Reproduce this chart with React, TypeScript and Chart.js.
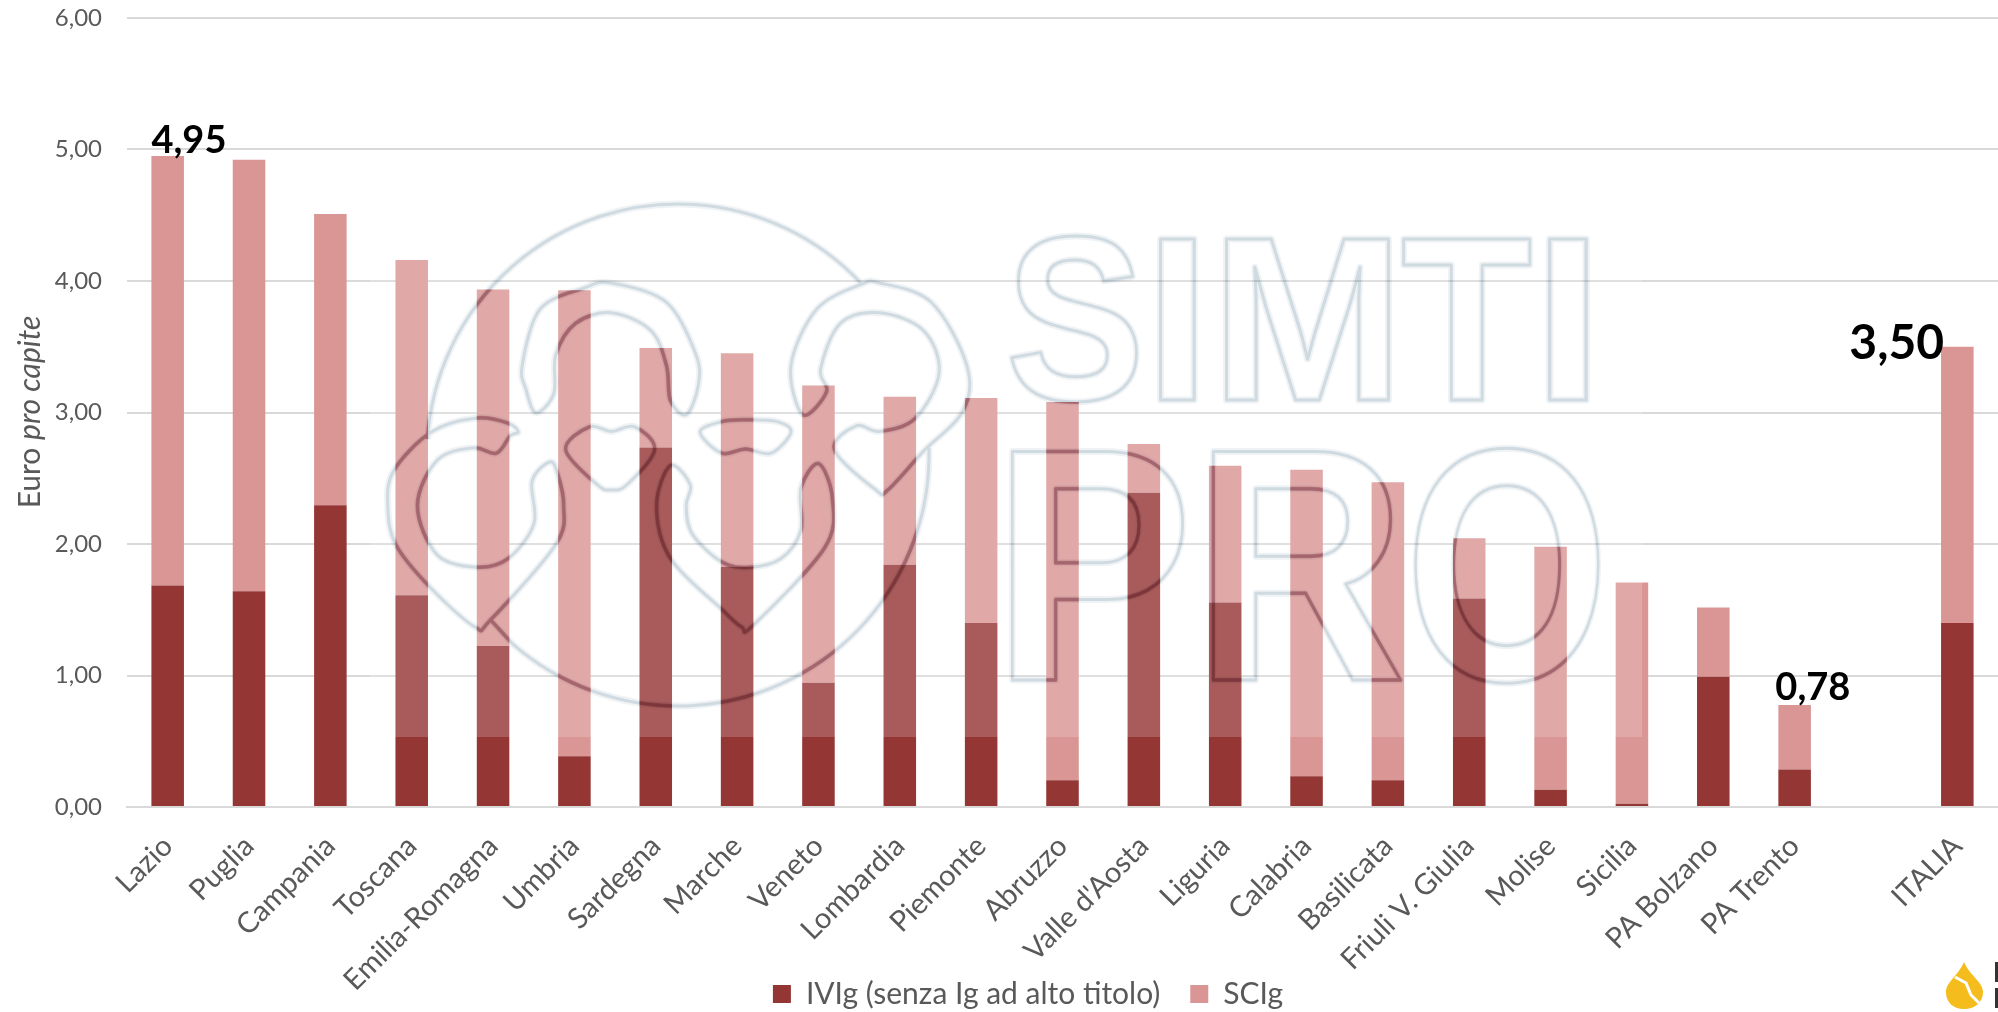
import React, { useEffect, useRef } from "react";
import { Chart, registerables } from "chart.js";

Chart.register(...registerables);

const categories = ["Lazio", "Puglia", "Campania", "Toscana", "Emilia-Romagna", "Umbria", "Sardegna", "Marche", "Veneto", "Lombardia", "Piemonte", "Abruzzo", "Valle d'Aosta", "Liguria", "Calabria", "Basilicata", "Friuli V. Giulia", "Molise", "Sicilia", "PA Bolzano", "PA Trento", "", "ITALIA"];
const ivigValues = [1.685, 1.64, 2.295, 1.61, 1.225, 0.386, 2.734, 1.827, 0.945, 1.842, 1.4, 0.203, 2.39, 1.555, 0.234, 0.203, 1.585, 0.132, 0.025, 0.991, 0.285, null, 1.4];
const scigValues = [3.265, 3.283, 2.215, 2.55, 2.71, 3.544, 0.756, 1.623, 2.261, 1.278, 1.71, 2.877, 0.37, 1.04, 2.331, 2.267, 0.458, 1.848, 1.683, 0.526, 0.49, null, 2.1];
const seriesNames = ["IVIg (senza Ig ad alto titolo)", "SCIg"];
const annotations = [
  { index: 0, text: "4,95", size: 38, align: "left", dx: 0, dy: -3 },
  { index: 20, text: "0,78", size: 38, align: "left", dx: -3, dy: -5 },
  { index: 22, text: "3,50", size: 48, align: "right", dx: 3, dy: 12 },
];
const yTitle = ["Euro ", "pro capite"];
const FONT = "Lato";
const TEXT = "#595959";

type P = [number, number];
const toFull = (p: P): P => [370 + p[0] / 2.53, 190 + p[1] / 2.85];
const logoShapes: P[][] = [
  [[155, 690], [60, 800], [45, 900], [65, 1010], [150, 1130], [265, 1245], [305, 1225], [470, 1010], [490, 900], [475, 810], [455, 775], [410, 830], [415, 950], [350, 1050], [270, 1075], [170, 1040], [120, 900], [170, 770], [260, 735], [320, 750], [355, 700], [375, 690], [350, 665], [270, 650]],
  [[420, 635], [395, 570], [385, 500], [430, 340], [540, 280], [610, 265], [750, 320], [825, 470], [830, 560], [800, 640], [760, 600], [750, 500], [710, 400], [610, 350], [520, 380], [470, 470], [465, 580]],
  [[495, 740], [575, 840], [610, 855], [650, 840], [720, 740], [670, 675], [610, 688], [555, 675]],
  [[760, 785], [810, 840], [800, 900], [815, 980], [890, 1060], [960, 1075], [1040, 1050], [1090, 970], [1090, 850], [1135, 780], [1170, 880], [1150, 1020], [970, 1240], [940, 1245], [890, 1195], [760, 1050], [725, 900]],
  [[835, 690], [890, 660], [950, 655], [1030, 660], [1065, 690], [1015, 750], [950, 738], [890, 750]],
  [[1095, 640], [1065, 500], [1130, 340], [1240, 270], [1290, 265], [1420, 320], [1510, 500], [1500, 630], [1400, 745], [1310, 855], [1280, 855], [1175, 740], [1230, 672], [1290, 688], [1380, 650], [1440, 520], [1400, 400], [1290, 350], [1190, 380], [1140, 510], [1155, 575]],
];
const simtiLetters: [string, number, number][] = [["S", 1011, 126], ["I", 1160, 35], ["M", 1226, 163], ["T", 1403, 127], ["I", 1549, 38]];
const proLetters: [string, number, number][] = [["P", 1011, 174], ["R", 1212, 189], ["O", 1413, 189]];

function traceLogo(ctx: CanvasRenderingContext2D) {
  const cx = 678, cy = 455, r = 251;
  ctx.beginPath();
  ctx.ellipse(cx, cy, r, r, 0, Math.PI * 1.02, Math.PI * 1.76);
  ctx.moveTo(...toFull([305, 1225]));
  ctx.ellipse(cx, cy, r, r, 0, Math.PI * 0.73, -0.03, true);
  for (const raw of logoShapes) {
    const s = raw.map(toFull);
    const n = s.length;
    ctx.moveTo(s[0][0], s[0][1]);
    for (let i = 0; i < n; i++) {
      const p0 = s[(i - 1 + n) % n], p1 = s[i], p2 = s[(i + 1) % n], p3 = s[(i + 2) % n];
      ctx.bezierCurveTo(
        p1[0] + (p2[0] - p0[0]) / 6, p1[1] + (p2[1] - p0[1]) / 6,
        p2[0] - (p3[0] - p1[0]) / 6, p2[1] - (p3[1] - p1[1]) / 6,
        p2[0], p2[1]
      );
    }
    ctx.closePath();
  }
}

function strokeLetters(ctx: CanvasRenderingContext2D, letters: [string, number, number][], size: number, baseline: number) {
  ctx.font = `bold ${size}px "Liberation Sans"`;
  ctx.textAlign = "left";
  ctx.textBaseline = "alphabetic";
  for (const [c, x, w] of letters) {
    const m = ctx.measureText(c);
    const ink = m.actualBoundingBoxRight + m.actualBoundingBoxLeft;
    ctx.save();
    ctx.translate(x, baseline);
    ctx.scale(w / ink, 1);
    ctx.strokeText(c, m.actualBoundingBoxLeft, 0);
    ctx.restore();
  }
}

const watermarkPlugin = {
  id: "watermark",
  afterDatasetsDraw(chart: any) {
    const ctx: CanvasRenderingContext2D = chart.ctx;
    ctx.save();
    ctx.fillStyle = "rgba(255,255,255,0.19)";
    ctx.fillRect(370, 190, 1272, 547);

    const drawAll = (color: string, width: number) => {
      ctx.strokeStyle = color;
      ctx.lineWidth = width;
      ctx.lineJoin = "round";
      traceLogo(ctx);
      ctx.stroke();
      strokeLetters(ctx, simtiLetters, 233, 400);
      strokeLetters(ctx, proLetters, 332, 680);
    };
    ctx.globalCompositeOperation = "multiply";
    drawAll("#F0F3F5", 7);
    drawAll("#DCE5EB", 3);

    ctx.beginPath();
    for (const di of [0, 1]) {
      for (const el of chart.getDatasetMeta(di).data) {
        const b = el.getProps(["x", "y", "base", "width"], true);
        if (Number.isFinite(b.y)) ctx.rect(b.x - b.width / 2, b.y, b.width, b.base - b.y);
      }
    }
    ctx.clip();
    drawAll("#E6B4BE", 4);
    ctx.restore();
  },
};

const annotationPlugin = {
  id: "extras",
  afterLayout(chart: any) {
    const lg = chart.legend;
    const h = lg.bottom - lg.top;
    lg.top = 994 - 30 - 15;
    lg.bottom = lg.top + h;
    lg.left += 29;
    lg.right += 29;
    // let the rotated tick labels run down behind the legend, as in the original
    chart.scales.x.bottom = 1012;
  },
  afterDraw(chart: any) {
    const ctx: CanvasRenderingContext2D = chart.ctx;
    ctx.save();
    ctx.textBaseline = "alphabetic";
    ctx.fillStyle = "#000000";
    const meta = chart.getDatasetMeta(1);
    for (const a of annotations) {
      const el = meta.data[a.index].getProps(["x", "y", "width"], true);
      ctx.font = `bold ${a.size}px ${FONT}`;
      ctx.textAlign = a.align as CanvasTextAlign;
      ctx.fillText(a.text, el.x - el.width / 2 + a.dx, el.y + a.dy);
    }
    // Y axis title with mixed upright and italic text
    ctx.fillStyle = TEXT;
    ctx.translate(30, 412);
    ctx.rotate(-Math.PI / 2);
    ctx.textBaseline = "middle";
    ctx.textAlign = "left";
    ctx.font = `30px ${FONT}`;
    const w0 = ctx.measureText(yTitle[0]).width;
    ctx.font = `italic 30px ${FONT}`;
    const w1 = ctx.measureText(yTitle[1]).width;
    ctx.font = `30px ${FONT}`;
    ctx.fillText(yTitle[0], -(w0 + w1) / 2, 0);
    ctx.font = `italic 30px ${FONT}`;
    ctx.fillText(yTitle[1], -(w0 + w1) / 2 + w0, 0);
    ctx.restore();

    // Publisher mark, bottom right corner
    ctx.save();
    ctx.fillStyle = "#F4BC1C";
    ctx.beginPath();
    ctx.moveTo(1964, 962);
    ctx.bezierCurveTo(1958, 976, 1946, 982, 1946, 992);
    ctx.bezierCurveTo(1946, 1003, 1954, 1009, 1964, 1009);
    ctx.bezierCurveTo(1974, 1009, 1983, 1003, 1983, 992);
    ctx.bezierCurveTo(1983, 982, 1970, 976, 1964, 962);
    ctx.fill();
    ctx.strokeStyle = "#FFFFFF";
    ctx.lineWidth = 3;
    ctx.beginPath();
    ctx.moveTo(1955, 977);
    ctx.lineTo(1966, 983);
    ctx.lineTo(1971, 995);
    ctx.lineTo(1979, 1003);
    ctx.stroke();
    ctx.fillStyle = "#333333";
    ctx.fillRect(1995, 962, 3, 20);
    ctx.fillRect(1995, 988, 3, 20);
    ctx.restore();
  },
};

export default function App() {
  const ref = useRef<HTMLCanvasElement>(null);
  useEffect(() => {
    document.body.style.margin = "0";
    document.body.style.overflow = "hidden";
    const chart = new Chart(ref.current!, {
      type: "bar",
      data: {
        labels: categories,
        datasets: [
          { label: seriesNames[0], data: ivigValues, backgroundColor: "#943634", stack: "s", categoryPercentage: 1, barPercentage: 0.4 },
          { label: seriesNames[1], data: scigValues, backgroundColor: "#D99694", stack: "s", categoryPercentage: 1, barPercentage: 0.4 },
        ],
      },
      options: {
        animation: false,
        responsive: false,
        layout: { padding: 0 },
        plugins: {
          tooltip: { enabled: false },
          title: { display: false },
          legend: {
            position: "bottom",
            labels: {
              boxWidth: 18,
              boxHeight: 18,
              padding: 30,
              color: TEXT,
              font: { family: FONT, size: 30 },
            },
          },
        },
        scales: {
          x: {
            stacked: true,
            offset: true,
            grid: { display: false },
            border: { color: "#D9D9D9", width: 2 },
            ticks: {
              autoSkip: false,
              minRotation: 45,
              maxRotation: 45,
              padding: 14,
              color: TEXT,
              font: { family: FONT, size: 29 },
            },
            afterFit(scale: any) {
              scale.height = 135;
              scale.paddingLeft = 0;
              scale.paddingRight = 0;
            },
          },
          y: {
            stacked: true,
            min: 0,
            max: 6,
            grid: { color: "#D9D9D9", lineWidth: 2, drawTicks: false },
            border: { display: false },
            ticks: {
              stepSize: 1,
              padding: 25,
              color: TEXT,
              font: { family: FONT, size: 24 },
              callback: (v: any) => Number(v).toFixed(2).replace(".", ","),
            },
            afterFit(scale: any) {
              scale.width = 127;
              scale.paddingTop = 18;
              scale.paddingBottom = 0;
            },
          },
        },
      },
      plugins: [watermarkPlugin, annotationPlugin],
    } as any);
    return () => chart.destroy();
  }, []);
  return (
    <div style={{ position: "absolute", left: 0, top: 0, width: 1998, height: 1012, overflow: "hidden", background: "#fff" }}>
      <canvas ref={ref} width={1998} height={1012} />
    </div>
  );
}
